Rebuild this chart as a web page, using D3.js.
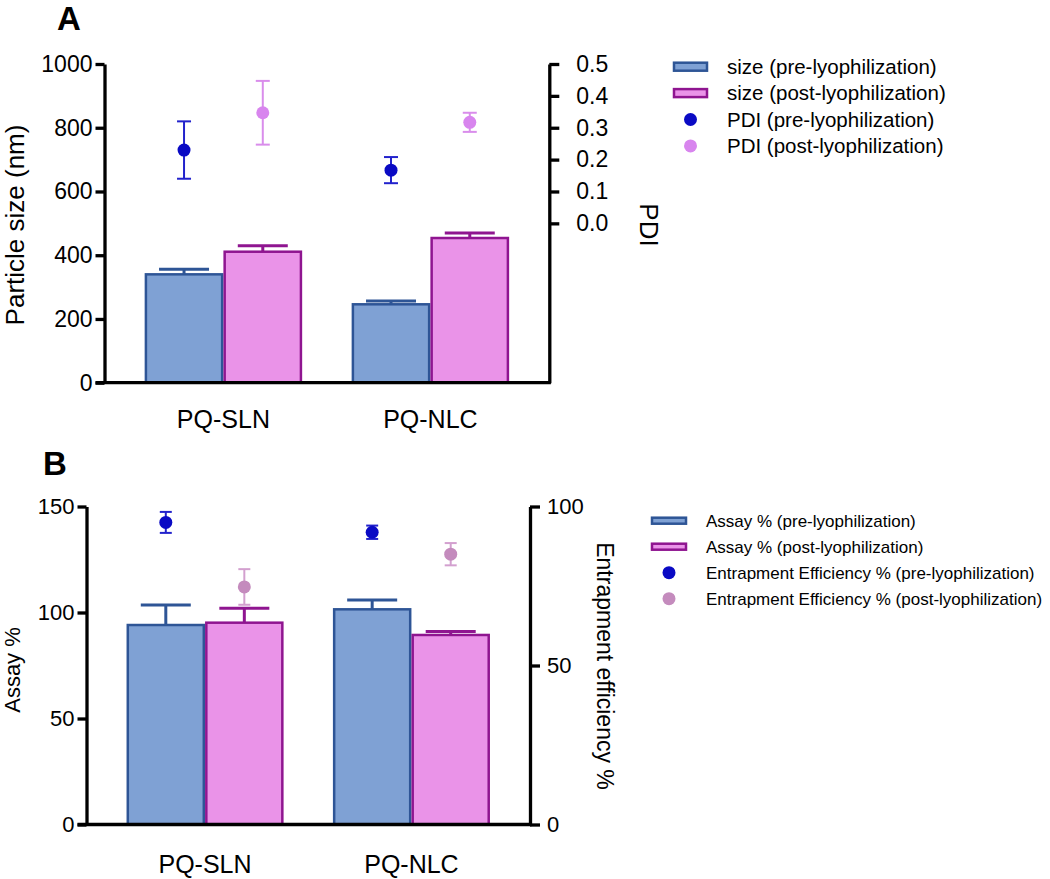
<!DOCTYPE html>
<html>
<head>
<meta charset="utf-8">
<script src="https://cdn.jsdelivr.net/npm/d3@7"></script>
<style>
  html, body { margin: 0; padding: 0; background: #fff; }
  svg { display: block; font-family: "Liberation Sans", Arial, sans-serif; }
</style>
</head>
<body>
<svg id="chart" width="1050" height="879"></svg>
<script>
// ---------- data ----------
const categories = ["PQ-SLN", "PQ-NLC"];
const seriesKeys = ["pre", "post"];

// Panel A
const sizePre = [340, 246];
const sizePreErr = [16, 10];
const sizePost = [411, 454];
const sizePostErr = [19, 16];
const pdiPre = [0.23, 0.167];
const pdiPreErr = [0.09, 0.041];
const pdiPost = [0.347, 0.317];
const pdiPostErr = [0.10, 0.03];
const sizeTicks = [0, 200, 400, 600, 800, 1000];
const pdiTicks = [0.0, 0.1, 0.2, 0.3, 0.4, 0.5];
const legendA = ["size (pre-lyophilization)", "size (post-lyophilization)", "PDI (pre-lyophilization)", "PDI (post-lyophilization)"];

// Panel B
const assayPre = [94.1, 101.5];
const assayPreErr = [9.4, 4.4];
const assayPost = [95.2, 89.4];
const assayPostErr = [6.8, 1.6];
const eePre = [95.0, 91.9];
const eePreErr = [3.3, 2.1];
const eePost = [74.7, 85.0];
const eePostErr = [5.6, 3.5];
const assayTicks = [0, 50, 100, 150];
const eeTicks = [0, 50, 100];
const legendB = ["Assay % (pre-lyophilization)", "Assay % (post-lyophilization)", "Entrapment Efficiency % (pre-lyophilization)", "Entrapment Efficiency % (post-lyophilization)"];

// ---------- styles ----------
const C = {
  preFill: "#7fa1d4", preStroke: "#2e5596",
  postFill: "#ea93e8", postStroke: "#8f1590",
  dotPreA: "#0a0ac4", dotPreErrA: "#2222cc",
  dotPostA: "#d885ee", dotPostErrA: "#d98deb",
  dotPreB: "#0a0ac4", dotPreErrB: "#2222cc",
  dotPostB: "#c48bbd", dotPostErrB: "#d3a0cf"
};

const svg = d3.select("#chart");

function panel(cfg) {
  const g = svg.append("g");
  const x = d3.scaleBand().domain(categories).range([cfg.left, cfg.right])
    .paddingInner(0.239).paddingOuter(0.194);
  const xs = d3.scaleBand().domain(seriesKeys).range([0, x.bandwidth()]).padding(0);
  const yL = d3.scaleLinear().domain(cfg.leftDomain).range([cfg.bottom, cfg.top]);
  const yR = d3.scaleLinear().domain(cfg.rightDomain).range([cfg.bottom, cfg.top]);

  const bars = [];
  categories.forEach((c, i) => {
    bars.push({c, k: "pre", v: cfg.barPre[i], e: cfg.barPreErr[i], fill: C.preFill, stroke: C.preStroke});
    bars.push({c, k: "post", v: cfg.barPost[i], e: cfg.barPostErr[i], fill: C.postFill, stroke: C.postStroke});
  });

  // bars
  g.selectAll("rect.bar").data(bars).enter().append("rect")
    .attr("x", d => x(d.c) + xs(d.k) + 1.25)
    .attr("width", xs.bandwidth() - 2.5)
    .attr("y", d => yL(d.v))
    .attr("height", d => yL(0) - yL(d.v))
    .attr("fill", d => d.fill)
    .attr("stroke", d => d.stroke)
    .attr("stroke-width", 2.5);

  // bar error bars (upper only)
  const capW = 50;
  bars.forEach(d => {
    const cx = x(d.c) + xs(d.k) + xs.bandwidth() / 2;
    g.append("line").attr("x1", cx).attr("x2", cx)
      .attr("y1", yL(d.v)).attr("y2", yL(d.v + d.e))
      .attr("stroke", d.stroke).attr("stroke-width", 3);
    g.append("line").attr("x1", cx - capW / 2).attr("x2", cx + capW / 2)
      .attr("y1", yL(d.v + d.e)).attr("y2", yL(d.v + d.e))
      .attr("stroke", d.stroke).attr("stroke-width", 3);
  });

  // dots
  const dots = [];
  categories.forEach((c, i) => {
    dots.push({c, k: "pre", v: cfg.dotPre[i], e: cfg.dotPreErr[i], col: cfg.dotPreCol, ecol: cfg.dotPreErrCol});
    dots.push({c, k: "post", v: cfg.dotPost[i], e: cfg.dotPostErr[i], col: cfg.dotPostCol, ecol: cfg.dotPostErrCol});
  });
  dots.forEach(d => {
    const cx = x(d.c) + xs(d.k) + xs.bandwidth() / 2;
    const y1 = yR(d.v - d.e), y2 = yR(d.v + d.e);
    const cw = cfg.dotCap;
    g.append("line").attr("x1", cx).attr("x2", cx).attr("y1", y1).attr("y2", y2)
      .attr("stroke", d.ecol).attr("stroke-width", 2);
    [y1, y2].forEach(yy => g.append("line").attr("x1", cx - cw / 2).attr("x2", cx + cw / 2)
      .attr("y1", yy).attr("y2", yy).attr("stroke", d.ecol).attr("stroke-width", 2));
    g.append("circle").attr("cx", cx).attr("cy", yR(d.v)).attr("r", 6.5).attr("fill", d.col);
  });

  // left axis
  const axL = g.append("g").attr("transform", `translate(${cfg.left},0)`)
    .call(d3.axisLeft(yL).tickValues(cfg.leftTicks).tickSize(9).tickSizeOuter(0).tickPadding(cfg.leftPad)
      .tickFormat(d3.format("d")));
  // right axis
  const axR = g.append("g").attr("transform", `translate(${cfg.right},0)`)
    .call(d3.axisRight(yR).tickValues(cfg.rightTicks).tickSize(10).tickSizeOuter(0).tickPadding(cfg.rightPad)
      .tickFormat(cfg.rightFmt));
  [axL, axR].forEach(a => {
    a.select(".domain").attr("stroke", "#000").attr("stroke-width", 3.3);
    a.selectAll(".tick line").attr("stroke", "#000").attr("stroke-width", 3.3);
    a.selectAll(".tick text").attr("fill", "#000").style("font-size", cfg.tickFont + "px")
      .style("font-family", '"Liberation Sans", Arial, sans-serif');
  });
  // bottom axis line
  g.append("line").attr("x1", cfg.left - 9).attr("x2", cfg.right + 1.6)
    .attr("y1", yL(0)).attr("y2", yL(0)).attr("stroke", "#000").attr("stroke-width", 3.3);

  // category labels
  g.selectAll("text.cat").data(categories).enter().append("text")
    .attr("x", d => x(d) + x.bandwidth() / 2).attr("y", cfg.catY)
    .attr("text-anchor", "middle").style("font-size", "25px").text(d => d);

  // axis titles
  g.append("text").attr("transform", `translate(${cfg.leftTitleX},${cfg.leftTitleY}) rotate(-90)`)
    .attr("text-anchor", "middle").style("font-size", cfg.leftTitleFont + "px").text(cfg.leftTitle);
  g.append("text").attr("transform", `translate(${cfg.rightTitleX},${cfg.rightTitleY}) rotate(90)`)
    .attr("text-anchor", "middle").style("font-size", cfg.rightTitleFont + "px").text(cfg.rightTitle);

  // panel letter
  g.append("text").attr("x", cfg.letterX).attr("y", cfg.letterY)
    .style("font-size", "33px").style("font-weight", "bold").text(cfg.letter);

  // legend
  const lg = g.append("g");
  cfg.legend.forEach((t, i) => {
    const yy = cfg.legY + i * cfg.legStep;
    if (i < 2) {
      lg.append("rect").attr("x", cfg.swX).attr("y", yy - cfg.swH / 2)
        .attr("width", cfg.swW).attr("height", cfg.swH)
        .attr("fill", i === 0 ? C.preFill : C.postFill)
        .attr("stroke", i === 0 ? C.preStroke : C.postStroke).attr("stroke-width", 2.5);
    } else {
      lg.append("circle").attr("cx", cfg.swX + cfg.swW / 2).attr("cy", yy).attr("r", 6.5)
        .attr("fill", i === 2 ? cfg.dotPreCol : cfg.dotPostCol);
    }
    lg.append("text").attr("x", cfg.legTextX).attr("y", yy).attr("dy", "0.35em")
      .style("font-size", cfg.legFont + "px").text(t);
  });
}

panel({
  left: 104.5, right: 549.3, top: 64, bottom: 382.7,
  leftDomain: [0, 1000], rightDomain: [-0.5, 0.5],
  leftTicks: sizeTicks, rightTicks: pdiTicks, rightFmt: d3.format(".1f"),
  leftPad: 3, rightPad: 17, tickFont: 23,
  barPre: sizePre, barPreErr: sizePreErr, barPost: sizePost, barPostErr: sizePostErr,
  dotPre: pdiPre, dotPreErr: pdiPreErr, dotPost: pdiPost, dotPostErr: pdiPostErr,
  dotPreCol: C.dotPreA, dotPreErrCol: C.dotPreErrA, dotPostCol: C.dotPostA, dotPostErrCol: C.dotPostErrA,
  dotCap: 14,
  catY: 428,
  leftTitle: "Particle size (nm)", leftTitleX: 24, leftTitleY: 225, leftTitleFont: 26,
  rightTitle: "PDI", rightTitleX: 640, rightTitleY: 225, rightTitleFont: 26,
  letter: "A", letterX: 57, letterY: 30,
  legend: legendA, legY: 66.7, legStep: 26.4, swX: 674, swW: 33, swH: 8, legTextX: 727, legFont: 20.5
});

panel({
  left: 86.5, right: 530, top: 506.5, bottom: 824.5,
  leftDomain: [0, 150], rightDomain: [0, 100],
  leftTicks: assayTicks, rightTicks: eeTicks, rightFmt: d3.format("d"),
  leftPad: 3, rightPad: 7, tickFont: 22,
  barPre: assayPre, barPreErr: assayPreErr, barPost: assayPost, barPostErr: assayPostErr,
  dotPre: eePre, dotPreErr: eePreErr, dotPost: eePost, dotPostErr: eePostErr,
  dotPreCol: C.dotPreB, dotPreErrCol: C.dotPreErrB, dotPostCol: C.dotPostB, dotPostErrCol: C.dotPostErrB,
  dotCap: 12,
  catY: 873,
  leftTitle: "Assay %", leftTitleX: 20, leftTitleY: 670, leftTitleFont: 22,
  rightTitle: "Entrapment efficiency %", rightTitleX: 597, rightTitleY: 666, rightTitleFont: 23,
  letter: "B", letterX: 43, letterY: 475,
  legend: legendB, legY: 520.7, legStep: 26, swX: 652, swW: 34, swH: 6, legTextX: 706, legFont: 17
});
</script>
</body>
</html>
